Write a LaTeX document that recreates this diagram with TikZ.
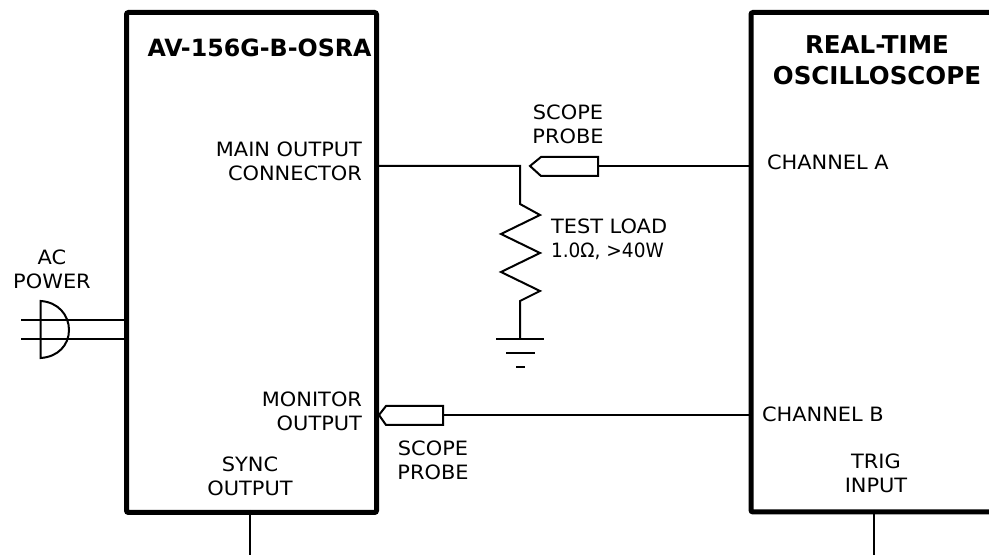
\documentclass[tikz,border=0pt]{standalone}
\usepackage{fontspec}
\setmainfont[FakeStretch=1.06]{DejaVu Sans}
\newfontfamily\plainbold[FakeStretch=1.0]{DejaVu Sans Bold}
\newfontfamily\narrowtext[FakeStretch=0.94]{DejaVu Sans}
\tikzset{
  unitbox/.style={draw=black,line width=3.75pt,rounded corners=1.5pt,fill=none,inner sep=0pt,outer sep=0pt,anchor=north west},
  wire/.style={draw=black,line width=1.5pt,line join=miter},
  lbl/.style={font=\fontsize{14.8}{18}\selectfont,inner sep=0pt,outer sep=0pt,text=black},
  lblc/.style={lbl,align=center,anchor=center},
  lblr/.style={lbl,align=right,anchor=east},
  lbll/.style={lbl,align=left,anchor=west},
  ttl/.style={font=\plainbold\fontsize{17.8}{24}\selectfont,inner sep=0pt,outer sep=0pt,align=center,anchor=center},
  ttlwide/.style={ttl,font=\plainbold\fontsize{18.4}{23.3}\selectfont}
}
\begin{document}
\begin{tikzpicture}[x=0.75pt,y=-0.75pt]
\useasboundingbox (0,0) rectangle (989,555);
% instruments
\node[unitbox,minimum width=187.5pt,minimum height=375pt] (gen) at (126.5,12.5) {};
\node[unitbox,minimum width=225pt,minimum height=374.6pt] (scope) at (751,12.5) {};
% coordinates
\coordinate (syncEnd) at (250,555);
\coordinate (trigEnd) at (874,555);
\coordinate (syncTop) at (250,510);
\coordinate (trigTop) at (874,510);
\coordinate (mainOut) at (376,166);
\coordinate (junction) at (520,166);
\coordinate (chA) at (751,166);
\coordinate (chB) at (751,415);
\coordinate (gnd) at (520,339);
\coordinate (pAtip) at (530,166);
\coordinate (pAend) at (598,166);
\coordinate (pBtip) at (379,415);
\coordinate (pBend) at (443,415);
\coordinate (acAin) at (126.5,320);
\coordinate (acBin) at (126.5,339);
\coordinate (acA) at (21,320);
\coordinate (acB) at (21,339);
% wires
\draw[wire] (syncTop) -- (syncEnd);
\draw[wire] (trigTop) -- (trigEnd);
\draw[wire] (mainOut) -- (junction) -- (520,204) -- (540,215) -- (501,234) -- (540,253) -- (501,272) -- (540,291) -- (520,301) -- (gnd);
\draw[wire] (496,339) -- (544,339);
\draw[wire] (506,353) -- (535,353);
\draw[wire] (516,367.5) -- (525,367.5);
% probes
\draw[wire] (pAend) -- (chA);
\draw[wire] (pBend) -- (chB);
\draw[wire] (pAtip) -- (541,157) -- (598,157) -- (598,176) -- (541,176) -- cycle;
\draw[wire] (pBtip) -- (386,406) -- (443,406) -- (443,425) -- (386,425) -- cycle;
% AC plug
\draw[wire] (acA) -- (acAin);
\draw[wire] (acB) -- (acBin);
\draw[wire] (40.5,301) .. controls (58,302) and (69,315) .. (69,330) .. controls (69,345) and (58,357) .. (40.5,358) -- cycle;
% labels
\node[ttl] (tGen) at (259.5,48) {AV-156G-B-OSRA};
\node[ttlwide] (tScope) at (877,60.5) {REAL-TIME\\OSCILLOSCOPE};
\node[lblr] (lMain) at (362,161) {MAIN OUTPUT\\CONNECTOR};
\node[lblr] (lMon) at (362,411.5) {MONITOR\\OUTPUT};
\node[lblc] (lSync) at (250,476) {SYNC\\OUTPUT};
\node[lblc] (lAC) at (52,269) {AC\\POWER};
\node[lblc] (lPA) at (568,124) {SCOPE\\PROBE};
\node[lblc] (lPB) at (433,460) {SCOPE\\PROBE};
\node[lbll] (lLoad) at (551,239) {TEST LOAD\\{\narrowtext 1.0Ω, >40W}};
\node[lbll] (lA) at (767,162) {CHANNEL A};
\node[lbll] (lB) at (762,414) {CHANNEL B};
\node[lblc] (lTrig) at (876,473) {TRIG\\INPUT};
\end{tikzpicture}
\end{document}
